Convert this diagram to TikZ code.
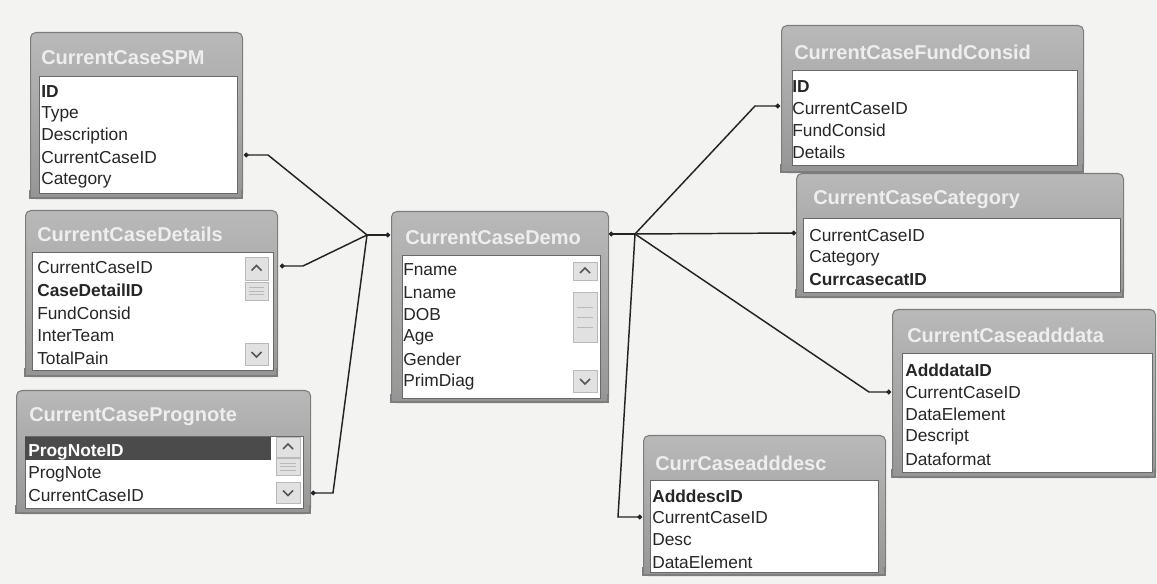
\documentclass[tikz,border=0pt]{standalone}
\usepackage{fontspec}
\setmainfont{Liberation Sans}
\usetikzlibrary{arrows.meta}
\definecolor{bgc}{RGB}{243,243,241}
\definecolor{framec}{RGB}{150,150,150}
\definecolor{framedark}{RGB}{125,125,125}
\definecolor{titletop}{RGB}{185,185,185}
\definecolor{titletext}{RGB}{238,238,238}
\definecolor{bodyline}{RGB}{105,105,105}
\definecolor{linkc}{RGB}{35,35,35}
\definecolor{hilite}{RGB}{75,75,75}
\definecolor{sbfill}{RGB}{225,225,225}
\definecolor{sbline}{RGB}{185,185,185}
\definecolor{sbarrow}{RGB}{85,85,85}
\tikzset{
 tframe/.style={draw=framedark, line width=0.8pt, top color=titletop, bottom color=framec, rounded corners=4pt, inner sep=0pt, anchor=north west},
 tbody/.style={draw=bodyline, fill=white, line width=0.6pt, inner sep=0pt, anchor=north west},
 row/.style={anchor=west, inner sep=0pt, font=\fontsize{13}{15}\selectfont, text=black!85},
 ttl/.style={anchor=west, inner sep=0pt, font=\fontsize{15}{17}\selectfont\bfseries, text=titletext},
 link/.style={draw=linkc, line width=1.1pt},
 dotS/.style={{Circle[length=3.5pt]}-},
 dotE/.style={-{Circle[length=3.5pt]}},
 sbbtn/.style={fill=sbfill, draw=sbline, line width=0.5pt},
 sbchev/.style={draw=sbarrow, line width=1.3pt},
}
\newcommand\dbtab[9]{%
 \node[tframe, minimum width={(#4-#2)*0.75pt}, minimum height={(#5-#3)*0.75pt}] (#1) at (#2,#3) {};
 \fill[framec] (#2,{#5-8}) rectangle (#4,#5);
 \draw[framedark, line width=0.8pt] (#2,{#5-8}) -- (#2,#5) -- (#4,#5) -- (#4,{#5-8});
 \node[tbody, minimum width={(#8-#6)*0.75pt}, minimum height={(#9-#7)*0.75pt}] (#1-body) at (#6,#7) {};
}
\newcommand\dbrows[5]{%
 \foreach \t [count=\i] in {#5} \node[row] (#1-r\i) at (#2,{#3+#4*(\i-1)}) {\t};
}
\newcommand\sbar[8]{% x1 x2 upT upB thT thB dnT dnB
 \fill[sbbtn] (#1,#3) rectangle (#2,#4);
 \draw[sbchev] ({(#1+#2)/2-5},{(#3+#4)/2+2}) -- ({(#1+#2)/2},{(#3+#4)/2-3}) -- ({(#1+#2)/2+5},{(#3+#4)/2+2});
 \fill[sbbtn] (#1,#5) rectangle (#2,#6);
 \foreach \k in {0.3,0.5,0.7} \draw[sbline, line width=0.5pt] ({#1+4},{#5+(#6-#5)*\k}) -- ({#2-4},{#5+(#6-#5)*\k});
 \fill[sbbtn] (#1,#7) rectangle (#2,#8);
 \draw[sbchev] ({(#1+#2)/2-5},{(#7+#8)/2-2}) -- ({(#1+#2)/2},{(#7+#8)/2+3}) -- ({(#1+#2)/2+5},{(#7+#8)/2-2});
}
\begin{document}
\begin{tikzpicture}[x=0.75pt,y=-0.75pt]
\useasboundingbox[fill=bgc] (0,0) rectangle (1157,584);

% ---- tables ----
\dbtab{spm}{30}{32}{242}{198}{39}{76}{237}{193}
\node[ttl] (spm-t) at (41,58) {CurrentCaseSPM};
\dbrows{spm}{41}{92}{22}{{\textbf{ID}},Type,Description,CurrentCaseID,Category}

\dbtab{det}{25}{210}{277}{376}{32}{252}{273}{370}
\node[ttl] (det-t) at (37,234) {CurrentCaseDetails};
\dbrows{det}{37}{268}{22.5}{CurrentCaseID,{\textbf{CaseDetailID}},FundConsid,InterTeam,TotalPain}
\sbar{245}{268}{257}{280}{282}{300}{343}{365}

\dbtab{prog}{16}{390}{310}{513}{25}{436}{303}{508}
\node[ttl] (prog-t) at (29,417) {CurrentCasePrognote};
\fill[hilite] (25,437) rectangle (271,460);
\dbrows{prog}{28}{452}{22}{{\textcolor{white}{\textbf{ProgNoteID}}},ProgNote,CurrentCaseID}
\sbar{276}{300}{437}{457}{458}{475}{482}{503}

\dbtab{demo}{391}{211}{608}{402}{402}{255}{600}{398}
\node[ttl] (demo-t) at (405,238) {CurrentCaseDemo};
\dbrows{demo}{403}{270}{22.4}{Fname,Lname,DOB,Age,Gender,PrimDiag}
\sbar{573}{597}{262}{280}{292}{342}{370}{392}

\dbtab{fund}{781}{25}{1083}{172}{792}{70}{1077}{165}
\node[ttl] (fund-t) at (794,52) {CurrentCaseFundConsid};
\dbrows{fund}{792}{87}{21.7}{{\textbf{ID}},CurrentCaseID,FundConsid,Details}

\dbtab{cat}{796}{173}{1123}{297}{803}{218}{1120}{292}
\node[ttl] (cat-t) at (813,200) {CurrentCaseCategory};
\dbrows{cat}{809}{236}{22}{CurrentCaseID,Category,{\textbf{CurrcasecatID}}}

\dbtab{data}{892}{309}{1155}{477}{902}{353}{1152}{472}
\node[ttl] (data-t) at (907,335) {CurrentCaseadddata};
\dbrows{data}{905}{370}{22.3}{{\textbf{AdddataID}},CurrentCaseID,DataElement,Descript,Dataformat}

\dbtab{desc}{643}{435}{885}{575}{650}{480}{878}{572}
\node[ttl] (desc-t) at (655,463) {CurrCaseadddesc};
\dbrows{desc}{652}{496}{22}{{\textbf{AdddescID}},CurrentCaseID,Desc,DataElement}

% ---- connector points ----
\coordinate (jL) at (367,235);
\coordinate (jR) at (635,234);
\coordinate (spmC) at (244,155);
\coordinate (detC) at (280,266);
\coordinate (progC) at (311,493);
\coordinate (demoL) at (390,235);
\coordinate (demoR) at (609,234);
\coordinate (fundC) at (780,106);
\coordinate (catC) at (796,233);
\coordinate (dataC) at (891,392);
\coordinate (descC) at (642,517);

% ---- connectors ----
\draw[link,dotS] (spmC) -- ++(24,0) -- (jL);
\draw[link,dotS] (detC) -- ++(23,0) -- (jL);
\draw[link,dotS] (progC) -- ++(22,0) -- (jL);
\draw[link,dotE] (jL) -- (demoL);
\draw[link,dotS] (demoR) -- (jR);
\draw[link,dotS] (fundC) -- ++(-25,0) -- (jR);
\draw[link,dotS] (catC) -- (jR);
\draw[link,dotS] (dataC) -- ++(-22,0) -- (jR);
\draw[link,dotS] (descC) -- ++(-24,0) -- (jR);
\end{tikzpicture}
\end{document}
